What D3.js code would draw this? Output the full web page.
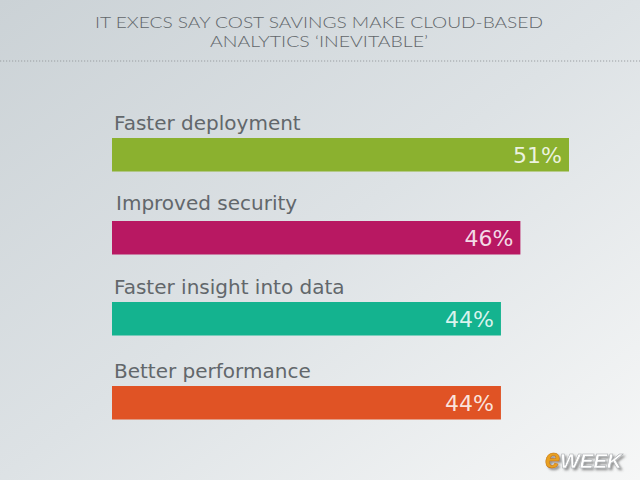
<!DOCTYPE html>
<html><head><meta charset="utf-8">
<script src="https://cdn.jsdelivr.net/npm/d3@7"></script>
<style>html,body{margin:0;padding:0;overflow:hidden}</style>
</head><body>
<script>
const titleLines = ["IT EXECS SAY COST SAVINGS MAKE CLOUD-BASED", "ANALYTICS \u2018INEVITABLE\u2019"];
const categories = ["Faster deployment", "Improved security", "Faster insight into data", "Better performance"];
const values = [51, 46, 44, 44];
const colors = ["#8bb12f", "#b81862", "#14b38f", "#e05325"];

const W = 640, H = 480;
const svg = d3.select("body").append("svg").attr("width", W).attr("height", H);
const defs = svg.append("defs");
const grad = defs.append("linearGradient").attr("id", "bg").attr("x1", "0").attr("y1", "0").attr("x2", "1").attr("y2", "1");
grad.append("stop").attr("offset", "0").attr("stop-color", "#cbd2d6");
grad.append("stop").attr("offset", "0.5").attr("stop-color", "#dde2e5");
grad.append("stop").attr("offset", "1").attr("stop-color", "#f6f7f7");
svg.append("rect").attr("width", W).attr("height", H).attr("fill", "url(#bg)");

const shadow = defs.append("filter").attr("id", "sh").attr("x", "-20%").attr("y", "-30%").attr("width", "150%").attr("height", "180%");
shadow.append("feDropShadow").attr("dx", 2).attr("dy", 2).attr("stdDeviation", 1.2)
  .attr("flood-color", "#555").attr("flood-opacity", 0.6);

// title
svg.selectAll("text.title").data(titleLines).enter().append("text")
  .attr("class", "title")
  .attr("x", 319).attr("y", (d, i) => 28 + i * 18.5)
  .attr("text-anchor", "middle")
  .attr("font-family", "Lato, sans-serif").attr("font-weight", 300)
  .attr("font-size", 15.4).attr("fill", "#62676b")
  .attr("textLength", (d, i) => i === 0 ? 448 : 218)
  .attr("lengthAdjust", "spacingAndGlyphs")
  .text(d => d);

svg.append("line").attr("x1", 0).attr("x2", W).attr("y1", 61).attr("y2", 61)
  .attr("stroke", "#9a9ea2").attr("stroke-width", 1.2).attr("stroke-dasharray", "1.2,1.8");

const x = d3.scaleLinear().domain([4, 51]).range([112, 569]);
const barTop = [138, 221, 302, 386];
const labelOff = [8, 11, 8, 8];
const barH = 33.5;

const rows = svg.append("g").selectAll("g.row").data(categories).enter().append("g").attr("class", "row");

rows.append("text")
  .attr("x", (d, i) => i === 1 ? 116 : 114)
  .attr("y", (d, i) => barTop[i] - labelOff[i])
  .attr("font-family", "'DejaVu Sans', Verdana, sans-serif")
  .attr("font-size", 20).attr("fill", "#62676b")
  .text(d => d);

rows.append("rect")
  .attr("x", x(4))
  .attr("y", (d, i) => barTop[i])
  .attr("width", (d, i) => x(values[i]) - x(4))
  .attr("height", barH)
  .attr("fill", (d, i) => colors[i]);

rows.append("text")
  .attr("x", (d, i) => x(values[i]) - 7)
  .attr("y", (d, i) => barTop[i] + 25)
  .attr("text-anchor", "end")
  .attr("font-family", "'DejaVu Sans', Verdana, sans-serif")
  .attr("font-size", 22).attr("fill", "#ffffff").attr("fill-opacity", 0.85)
  .text((d, i) => values[i] + "%");

// logo
const lt = svg.append("text")
  .attr("x", 545).attr("y", 468)
  .attr("font-family", "'Liberation Sans', Arial, sans-serif").attr("font-weight", "bold").attr("font-style", "italic")
  .attr("font-size", 21).attr("filter", "url(#sh)");
lt.append("tspan").attr("fill", "#e8a020").attr("stroke", "#c07010").attr("stroke-width", 0.5).attr("font-size", 27).text("e");
lt.append("tspan").attr("fill", "#ffffff").attr("stroke", "#a0a4a8").attr("stroke-width", 0.5).attr("textLength", 62).text("WEEK");
</script>
</body></html>
